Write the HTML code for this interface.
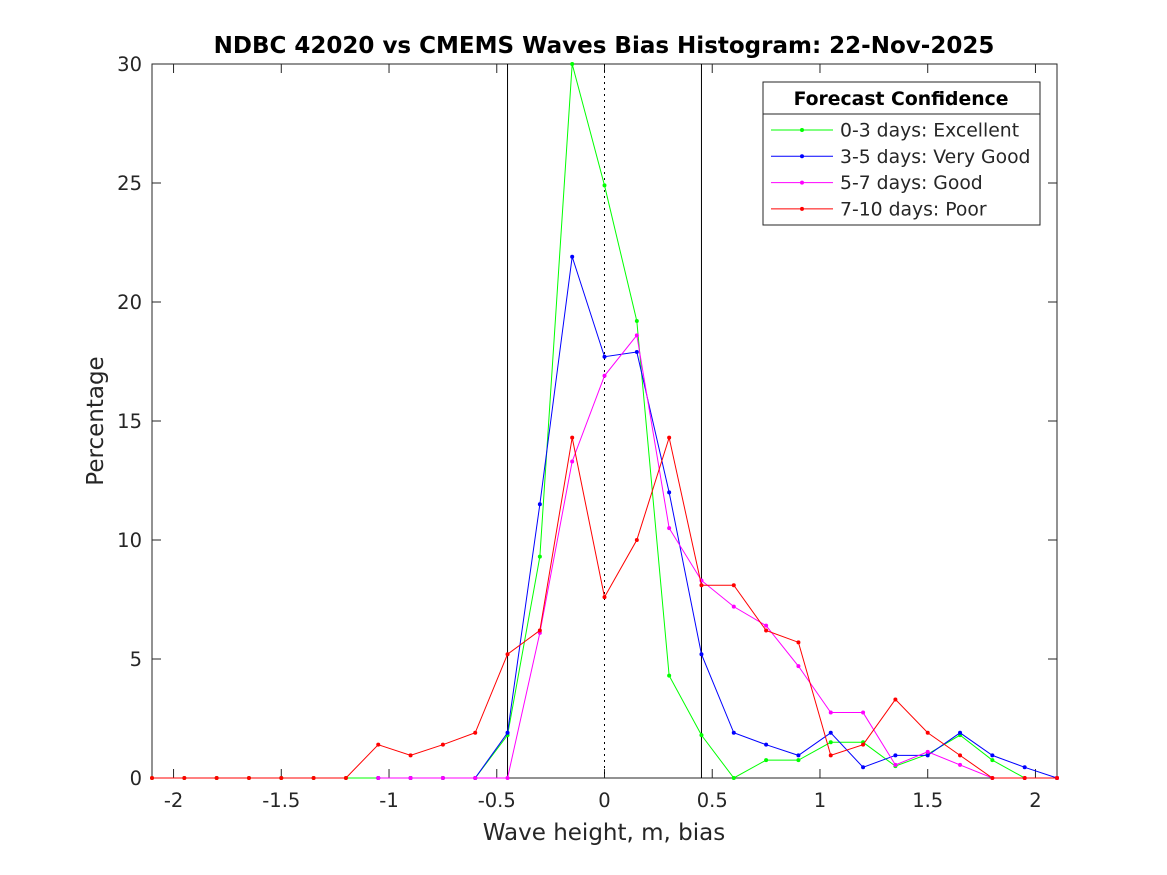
<!DOCTYPE html>
<html><head><meta charset="utf-8"><style>
body{margin:0;background:#fff;}
svg{display:block;font-family:"DejaVu Sans","Liberation Sans",sans-serif;}
</style></head><body>
<svg id="s" width="1167" height="875" xmlns="http://www.w3.org/2000/svg">
<rect width="1167" height="875" fill="#fff"/>
<g id="g"></g>
</svg>
<script>
const X0=152,X1=1057,Y0=778,Y1=64;
const sx=v=>X0+(v+2.1)/4.2*(X1-X0), sy=v=>Y0-v/30*(Y0-Y1);
let h='';
h+=`<rect x="${X0}" y="${Y1}" width="${X1-X0}" height="${Y0-Y1}" fill="#fff" stroke="#262626" stroke-width="1"/>`;
[-2,-1.5,-1,-0.5,0,0.5,1,1.5,2].forEach(v=>{const x=sx(v);
h+=`<line x1="${x}" y1="${Y0}" x2="${x}" y2="${Y0-9}" stroke="#262626"/><line x1="${x}" y1="${Y1}" x2="${x}" y2="${Y1+9}" stroke="#262626"/>`;
h+=`<text x="${x}" y="${Y0+29}" font-size="19.5" text-anchor="middle" fill="#262626">${v}</text>`;});
[0,5,10,15,20,25,30].forEach(v=>{const y=sy(v);
h+=`<line x1="${X0}" y1="${y}" x2="${X0+9}" y2="${y}" stroke="#262626"/><line x1="${X1}" y1="${y}" x2="${X1-9}" y2="${y}" stroke="#262626"/>`;
h+=`<text x="${X0-10}" y="${y+7}" font-size="19.5" text-anchor="end" fill="#262626">${v}</text>`;});
h+=`<line x1="${sx(-0.45)}" y1="${Y1}" x2="${sx(-0.45)}" y2="${Y0}" stroke="#000"/>`;
h+=`<line x1="${sx(0.45)}" y1="${Y1}" x2="${sx(0.45)}" y2="${Y0}" stroke="#000"/>`;
h+=`<line x1="${sx(0)}" y1="${Y1}" x2="${sx(0)}" y2="${Y0}" stroke="#000" stroke-dasharray="2,4"/>`;
const z=n=>Array(n).fill(0);
const S=[
['#00ff00',[...z(11),1.8,9.3,30,24.9,19.2,4.3,1.8,0,0.75,0.75,1.5,1.5,0.5,1.0,1.8,0.75,0,0]],
['#0000ff',[...z(11),1.9,11.5,21.9,17.7,17.9,12.0,5.2,1.9,1.4,0.95,1.9,0.45,0.95,0.95,1.9,0.95,0.45,0],7],
['#ff00ff',[...z(12),6.1,13.3,16.9,18.6,10.5,8.3,7.2,6.4,4.7,2.75,2.75,0.55,1.1,0.55,0,0,0],7],
['#ff0000',[...z(7),1.4,0.95,1.4,1.9,5.2,6.2,14.3,7.6,10.0,14.3,8.1,8.1,6.2,5.7,0.95,1.4,3.3,1.9,0.95,0,0,0]]];
S.forEach(([c,d,st])=>{let s=st||0;let p=[];for(let k=s;k<d.length;k++)p.push([sx(-2.1+0.15*k),sy(d[k])]);
h+=`<polyline points="${p.map(q=>q.join(',')).join(' ')}" fill="none" stroke="${c}" stroke-width="1"/>`;
p.forEach(q=>h+=`<circle cx="${q[0]}" cy="${q[1]}" r="2" fill="${c}"/>`);});
h+=`<rect x="763" y="82" width="277" height="143" fill="#fff" stroke="#262626"/><line x1="763" y1="114" x2="1040" y2="114" stroke="#262626"/>`;
h+=`<text x="901" y="105" font-size="18.8" font-weight="bold" text-anchor="middle">Forecast Confidence</text>`;
['0-3 days: Excellent','3-5 days: Very Good','5-7 days: Good','7-10 days: Poor'].forEach((t,i)=>{const y=130+26.3*i;const c=S[i][0];
h+=`<line x1="771" y1="${y}" x2="833" y2="${y}" stroke="${c}"/><circle cx="802" cy="${y}" r="2" fill="${c}"/>`;
h+=`<text x="840" y="${y+6.5}" font-size="18.8" fill="#262626">${t}</text>`;});
h+=`<text x="604" y="53" font-size="23" font-weight="bold" text-anchor="middle">NDBC 42020 vs CMEMS Waves Bias Histogram: 22-Nov-2025</text>`;
h+=`<text x="604" y="840" font-size="23" text-anchor="middle" fill="#262626">Wave height, m, bias</text>`;
h+=`<text transform="translate(103,421) rotate(-90)" font-size="23" text-anchor="middle" fill="#262626">Percentage</text>`;
document.getElementById('g').innerHTML=h;
</script>
</body></html>
